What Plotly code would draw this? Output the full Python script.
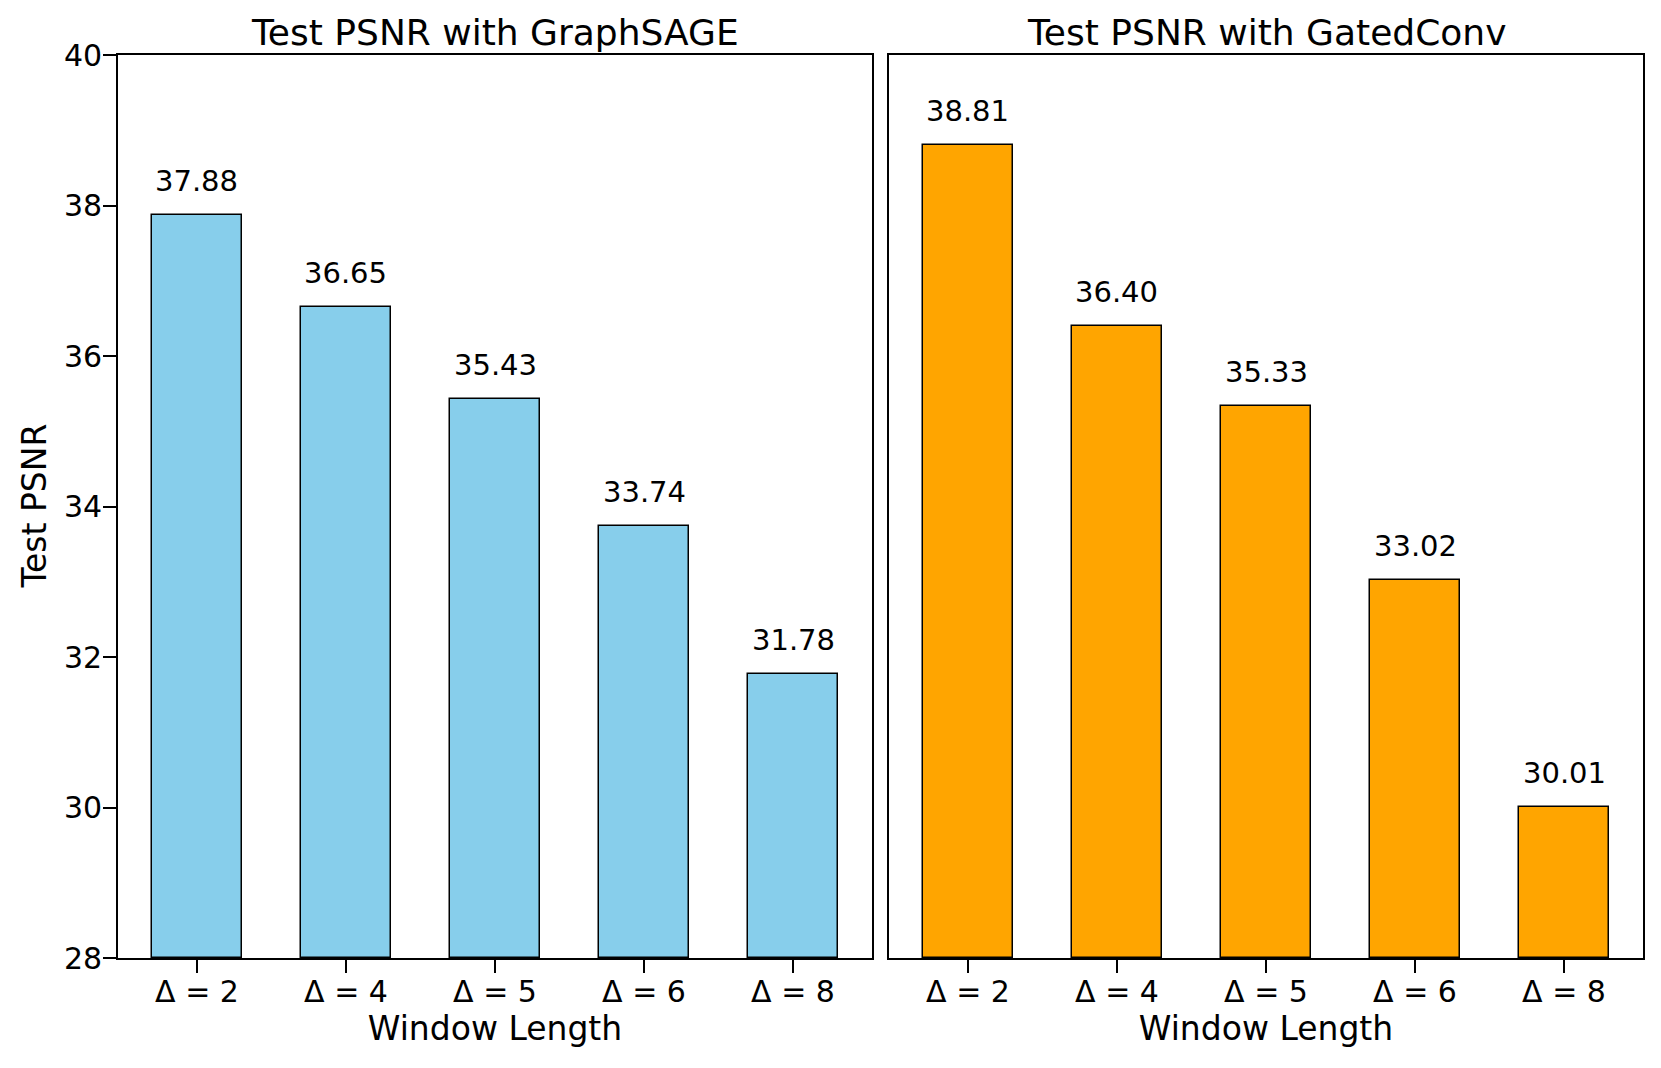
import plotly.graph_objects as go
from plotly.subplots import make_subplots

categories = ["Δ = 2", "Δ = 4", "Δ = 5", "Δ = 6", "Δ = 8"]
graphsage_psnr = [37.88, 36.65, 35.43, 33.74, 31.78]
gatedconv_psnr = [38.81, 36.40, 35.33, 33.02, 30.01]
titles = ["Test PSNR with GraphSAGE", "Test PSNR with GatedConv"]
y_ticks = [28, 30, 32, 34, 36, 38, 40]

FONT = "DejaVu Sans"
W, H = 1661, 1068
# page body has an 8px margin; compensate
L, R, T, B = 110, 26, 47, 118
pw = W - L - R
gap = 17
fig = make_subplots(rows=1, cols=2, shared_yaxes=True, horizontal_spacing=gap / pw)

series = [(graphsage_psnr, "#87CEEB"), (gatedconv_psnr, "#FFA500")]
for i, (vals, color) in enumerate(series, start=1):
    fig.add_trace(go.Bar(
        x=list(range(len(categories))), y=[v - 28 for v in vals], base=28,
        width=0.6, marker=dict(color=color, line=dict(color="black", width=1.5)),
        showlegend=False, hoverinfo="skip"), row=1, col=i)
    for j, v in enumerate(vals):
        fig.add_annotation(x=j, y=v, text=f"{v:.2f}", showarrow=False,
                           yanchor="bottom", yshift=15, xref=f"x{'' if i == 1 else i}",
                           yref=f"y{'' if i == 1 else i}",
                           font=dict(family=FONT, size=29, color="black"))
    fig.update_xaxes(row=1, col=i, range=[-0.53, 4.53], tickmode="array",
                     tickvals=list(range(len(categories))), ticktext=categories,
                     ticks="outside", ticklen=13, tickwidth=1.5, tickcolor="black",
                     ticklabelstandoff=-7,
                     showline=True, linecolor="black", linewidth=1.6, mirror=True,
                     showgrid=False, zeroline=False, automargin=False,
                     tickfont=dict(family=FONT, size=30, color="black"),
                     title=dict(text="Window Length", standoff=2,
                                font=dict(family=FONT, size=33, color="black")))
    fig.update_yaxes(row=1, col=i, range=[28, 40], tickvals=y_ticks,
                     showline=True, linecolor="black", linewidth=1.6, mirror=True,
                     showgrid=False, zeroline=False, automargin=False,
                     tickfont=dict(family=FONT, size=30, color="black"))

fig.update_yaxes(row=1, col=1, ticks="outside", ticklen=13, tickwidth=1.5, tickcolor="black",
                 ticklabelstandoff=-5)
fig.update_yaxes(row=1, col=2, ticks="", showticklabels=False)

# y-axis title
fig.add_annotation(x=0, y=0.5, xref="paper", yref="paper", text="Test PSNR",
                   textangle=-90, showarrow=False, xanchor="center", yanchor="middle",
                   xshift=-84, font=dict(family=FONT, size=33, color="black"))

doms = [fig.layout.xaxis.domain, fig.layout.xaxis2.domain]
for d, t in zip(doms, titles):
    fig.add_annotation(x=(d[0] + d[1]) / 2, y=1, xref="paper", yref="paper",
                       text=t, showarrow=False, xanchor="center", yanchor="bottom",
                       yshift=0, font=dict(family=FONT, size=36, color="black"))

fig.update_layout(width=W, height=H, margin=dict(l=L, r=R, t=T, b=B),
                  plot_bgcolor="white", paper_bgcolor="white", bargap=0)
fig.write_html("out.html")
